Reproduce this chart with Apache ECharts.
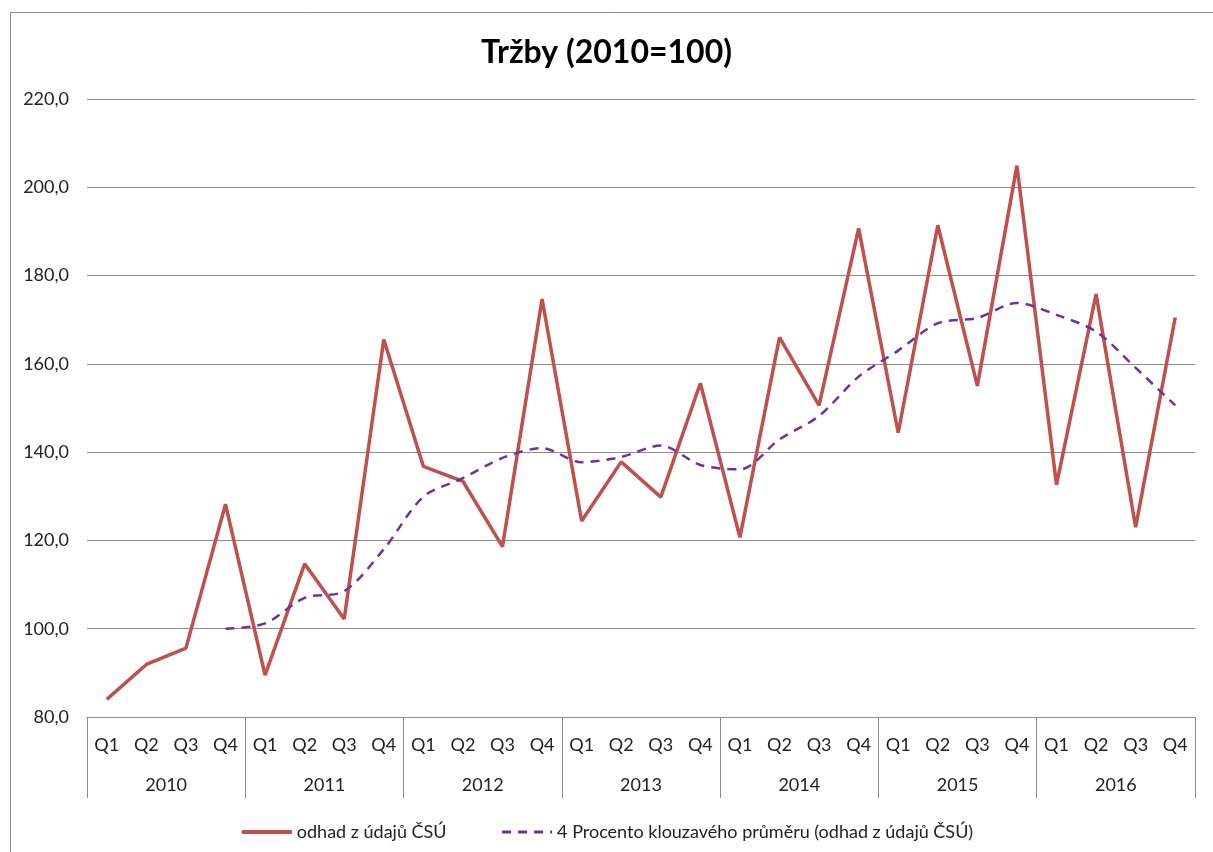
<!DOCTYPE html>
<html>
<head>
<meta charset="utf-8">
<script src="https://cdn.jsdelivr.net/npm/echarts@6/dist/echarts.min.js"></script>
<style>
  html, body { margin: 0; padding: 0; background: #fff; }
  #chart { width: 1213px; height: 852px; }
</style>
</head>
<body>
<div id="chart"></div>
<script>
// kvartaly a roky
var quarters = ['Q1', 'Q2', 'Q3', 'Q4'];
var years = ['2010', '2011', '2012', '2013', '2014', '2015', '2016'];
var categories = [];
years.forEach(function (y) {
  quarters.forEach(function (q) { categories.push(q); });
});

// odhad z údajů ČSÚ
var trzby = [
  84.0, 91.9, 95.6, 128.2,
  89.5, 114.7, 102.2, 165.5,
  136.8, 133.4, 118.6, 174.7,
  124.4, 137.8, 129.8, 155.6,
  120.7, 166.0, 150.6, 190.7,
  144.4, 191.4, 155.0, 204.9,
  132.6, 175.8, 123.0, 170.5
];

// 4 Procento klouzavého průměru
var klouzavy = [
  null, null, null, 100.0,
  101.2, 107.0, 108.5, 118.0,
  129.9, 134.1, 138.7, 140.9,
  137.7, 138.9, 141.5, 137.1,
  136.1, 142.9, 148.2, 157.1,
  163.0, 169.2, 170.4, 173.8,
  171.1, 167.3, 159.1, 150.6
];

var nazvy = ['odhad z údajů ČSÚ', '4 Procento klouzavého průměru (odhad z údajů ČSÚ)'];

var font = 'Lato';
var chart = echarts.init(document.getElementById('chart'));

var option = {
  animation: false,
  backgroundColor: '#fff',
  textStyle: { fontFamily: font },
  title: {
    text: 'Tržby (2010=100)',
    left: 'center',
    top: 32,
    textStyle: { fontFamily: font, fontSize: 32, fontWeight: 'bold', color: '#000' }
  },
  graphic: [{
    type: 'rect',
    left: 8,
    top: 10,
    shape: { width: 1230, height: 870 },
    style: { fill: 'none', stroke: '#8c8c8c', lineWidth: 1 },
    silent: true
  }],
  legend: {
    top: 818,
    left: 'center',
    itemWidth: 50,
    itemHeight: 14,
    itemGap: 54,
    itemStyle: { opacity: 0 },
    textStyle: { fontFamily: font, fontSize: 18, color: '#222' },
    data: [
      { name: nazvy[0], lineStyle: { width: 4 } },
      { name: nazvy[1], lineStyle: { width: 3 } }
    ]
  },
  grid: { left: 87, right: 18, top: 99, bottom: 135 },
  xAxis: [{
    type: 'category',
    data: categories,
    boundaryGap: true,
    axisLine: { lineStyle: { color: '#8c8c8c', width: 1 } },
    axisTick: { show: false },
    axisLabel: { interval: 0, margin: 19, fontFamily: font, fontSize: 18, color: '#222' }
  }, {
    type: 'category',
    data: years,
    position: 'bottom',
    boundaryGap: true,
    axisLine: { show: false },
    axisTick: { show: true, length: 81, lineStyle: { color: '#8c8c8c', width: 1 } },
    axisLabel: { interval: 0, margin: 59, fontFamily: font, fontSize: 18, color: '#222' }
  }],
  yAxis: {
    type: 'value',
    min: 80,
    max: 220,
    interval: 20,
    axisLine: { show: false },
    axisTick: { show: false },
    splitLine: { lineStyle: { color: '#8c8c8c', width: 1 } },
    axisLabel: {
      margin: 18,
      fontFamily: font,
      fontSize: 18,
      color: '#222',
      formatter: function (v) { return v.toFixed(1).replace('.', ','); }
    }
  },
  series: [{
    name: nazvy[0],
    type: 'line',
    xAxisIndex: 0,
    data: trzby,
    symbol: 'none',
    itemStyle: { color: '#C0504D' },
    lineStyle: { color: '#C0504D', width: 3.5 }
  }, {
    name: nazvy[1],
    type: 'line',
    xAxisIndex: 0,
    data: klouzavy,
    symbol: 'none',
    smooth: 0.3,
    itemStyle: { color: '#7030A0' },
    lineStyle: { color: '#7030A0', width: 2.5, type: [9, 7] }
  }]
};

chart.setOption(option);
</script>
</body>
</html>
